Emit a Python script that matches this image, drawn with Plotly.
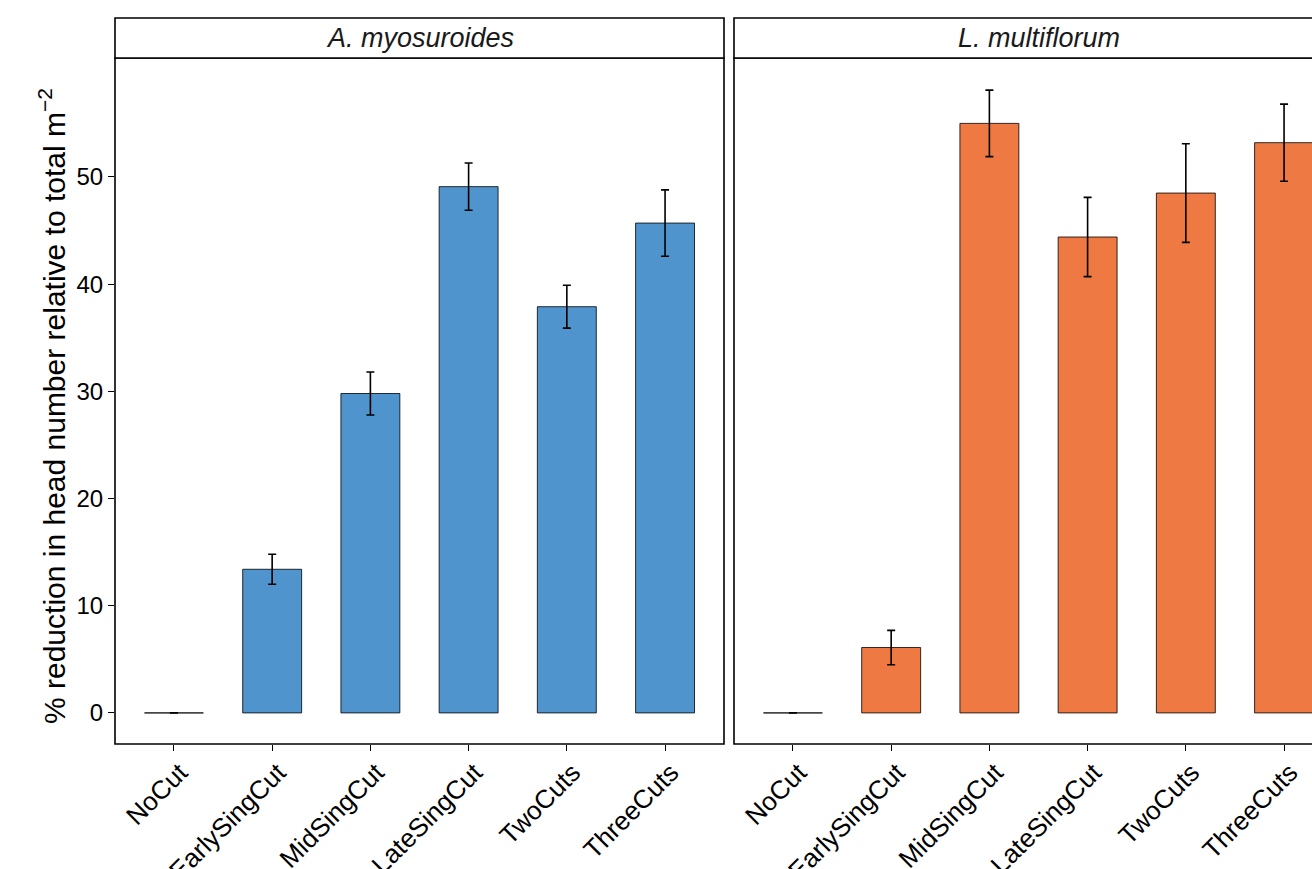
import plotly.graph_objects as go

categories = ["NoCut", "EarlySingCut", "MidSingCut", "LateSingCut", "TwoCuts", "ThreeCuts"]
species = ["A. myosuroides", "L. multiflorum"]
am_values = [0.0, 13.4, 29.8, 49.1, 37.9, 45.7]
am_errors = [0.0, 1.4, 2.0, 2.2, 2.0, 3.1]
lm_values = [0.0, 6.1, 55.0, 44.4, 48.5, 53.2]
lm_errors = [0.0, 1.6, 3.1, 3.7, 4.6, 3.6]
y_ticks = [0, 10, 20, 30, 40, 50]
colors = ["#4F94CD", "#EE7942"]

W, H = 1312, 869
L, R, T, B = 115, 0, 58, 125
pw = W - L - R
ph = H - T - B

def px(x):
    return (x - L) / pw

def py(y):
    return (H - B - y) / ph

p1 = (115, 724)
p2 = (734, 1343)
unit = (p1[1] - p1[0]) / 6.2
x2_end = -0.6 + (W - p2[0]) / unit

font = "Liberation Sans, Arial, Helvetica, sans-serif"

fig = go.Figure()
for i, (vals, errs) in enumerate([(am_values, am_errors), (lm_values, lm_errors)]):
    fig.add_trace(go.Bar(
        x=categories, y=vals,
        xaxis="x" if i == 0 else "x2", yaxis="y" if i == 0 else "y2",
        width=0.6,
        marker=dict(color=colors[i], line=dict(color="black", width=0.8)),
        error_y=dict(type="data", array=errs, visible=True, color="black", thickness=1.6, width=4),
        showlegend=False,
    ))

axis_common = dict(
    showgrid=False, zeroline=False, showline=False, automargin=False,
    ticks="outside", ticklen=6, tickwidth=1.2, tickcolor="black",
)
xfont = dict(family=font, size=26, color="black")
yfont = dict(family=font, size=24, color="black")
fig.update_layout(
    width=W, height=H,
    margin=dict(l=L, r=R, t=T, b=B),
    paper_bgcolor="white", plot_bgcolor="white",
    bargap=0.4,
    xaxis=dict(domain=[0, px(p1[1])], type="category", range=[-0.6, 5.6], tickangle=-45,
               tickfont=xfont, ticklabelshift=6, ticklabelstandoff=-4, **axis_common),
    xaxis2=dict(domain=[px(p2[0]), 1], type="category", range=[-0.6, x2_end], tickangle=-45, anchor="y2",
                tickfont=xfont, ticklabelshift=6, ticklabelstandoff=-4, **axis_common),
    yaxis=dict(range=[-2.9, 61.1], tickvals=y_ticks, tickfont=yfont, **axis_common),
    yaxis2=dict(range=[-2.9, 61.1], tickvals=y_ticks, anchor="x2", showticklabels=False, automargin=False,
                showgrid=False, zeroline=False, showline=False, ticks=""),
)

shapes = []
annotations = []
strip_top = 18
for i, (a, b) in enumerate([p1, p2]):
    # panel frame
    shapes.append(dict(type="rect", xref="paper", yref="paper",
                       x0=px(a), x1=px(b), y0=py(744), y1=py(58),
                       line=dict(color="black", width=1.6), fillcolor="rgba(0,0,0,0)", layer="above"))
    # strip
    shapes.append(dict(type="rect", xref="paper", yref="paper",
                       x0=px(a), x1=px(b), y0=py(58), y1=py(strip_top),
                       line=dict(color="black", width=1.6), fillcolor="white", layer="above"))
    annotations.append(dict(xref="paper", yref="paper", x=px((a + b) / 2), y=py((58 + strip_top) / 2),
                            text="<i>" + species[i] + "</i>", showarrow=False,
                            font=dict(family=font, size=27, color="#1a1a1a"),
                            xanchor="center", yanchor="middle"))

annotations.append(dict(xref="paper", yref="paper", x=px(52), y=py(406),
                        text="% reduction in head number relative to total m<sup>\u22122</sup>",
                        showarrow=False, textangle=-90,
                        font=dict(family=font, size=30, color="black"),
                        xanchor="center", yanchor="middle"))

fig.update_layout(shapes=shapes, annotations=annotations)
fig.write_html("out.html")
